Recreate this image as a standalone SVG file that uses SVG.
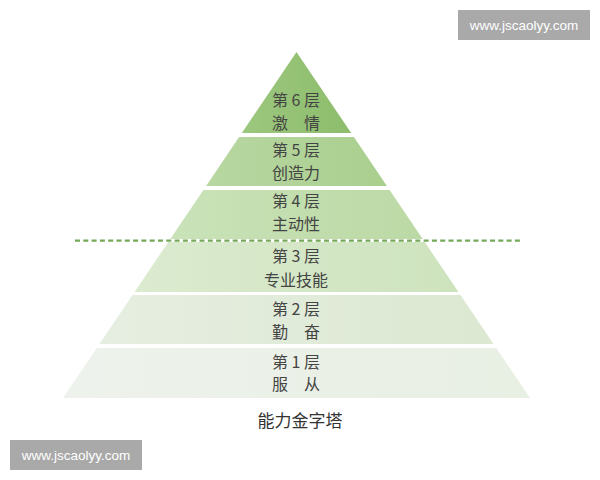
<svg xmlns="http://www.w3.org/2000/svg" width="600" height="480" viewBox="0 0 600 480">
  <defs>
    <linearGradient id="g6" x1="0" y1="0" x2="1" y2="0"><stop offset="0" stop-color="#9cc77e"/><stop offset="1" stop-color="#8dbd6c"/></linearGradient>
    <linearGradient id="g5" x1="0" y1="0" x2="1" y2="0"><stop offset="0" stop-color="#b8d7a2"/><stop offset="1" stop-color="#a9cf8e"/></linearGradient>
    <linearGradient id="g4" x1="0" y1="0" x2="1" y2="0"><stop offset="0" stop-color="#cae2b8"/><stop offset="1" stop-color="#bbd9a5"/></linearGradient>
    <linearGradient id="g3" x1="0" y1="0" x2="1" y2="0"><stop offset="0" stop-color="#dcebd0"/><stop offset="1" stop-color="#cde3bd"/></linearGradient>
    <linearGradient id="g2" x1="0" y1="0" x2="1" y2="0"><stop offset="0" stop-color="#e6eee1"/><stop offset="1" stop-color="#dce8d1"/></linearGradient>
    <linearGradient id="g1" x1="0" y1="0" x2="1" y2="0"><stop offset="0" stop-color="#eef2ec"/><stop offset="1" stop-color="#e8efe3"/></linearGradient>
  </defs>
  <style>
    .lbl { font-family: "Noto Sans CJK SC", "Noto Sans", sans-serif; font-size: 16px; fill: #444444; text-anchor: middle; white-space: pre; }
    .title { font-family: "Noto Sans CJK SC", "Noto Sans", sans-serif; font-size: 17px; fill: #333333; text-anchor: middle; }
    .wm-box { fill: #a9a9a9; }
    .wm-txt { font-family: "Liberation Sans", Arial, sans-serif; font-size: 13.5px; fill: #ffffff; text-anchor: middle; }
  </style>
  <rect width="600" height="480" fill="#ffffff"/>

  <g id="layer6">
    <polygon points="296.5,52 351.2,133 241.8,133" fill="url(#g6)"/>
    <text class="lbl" x="296" y="106" xml:space="preserve">第 6 层</text>
    <text class="lbl" x="296" y="129">激　情</text>
  </g>
  <g id="layer5">
    <polygon points="239.1,137 353.9,137 386.9,186 206.1,186" fill="url(#g5)"/>
    <text class="lbl" x="296" y="156" xml:space="preserve">第 5 层</text>
    <text class="lbl" x="296" y="179">创造力</text>
  </g>
  <g id="layer4">
    <polygon points="203.4,190 389.6,190 422.7,239 170.3,239" fill="url(#g4)"/>
    <text class="lbl" x="296" y="207" xml:space="preserve">第 4 层</text>
    <text class="lbl" x="296" y="230">主动性</text>
  </g>
  <g id="layer3">
    <polygon points="168.3,242 424.7,242 458.5,292 134.5,292" fill="url(#g3)"/>
    <text class="lbl" x="296" y="262" xml:space="preserve">第 3 层</text>
    <text class="lbl" x="296" y="286">专业技能</text>
  </g>
  <g id="layer2">
    <polygon points="132.5,295 460.5,295 493.5,344 99.5,344" fill="url(#g2)"/>
    <text class="lbl" x="296" y="315" xml:space="preserve">第 2 层</text>
    <text class="lbl" x="296" y="338">勤　奋</text>
  </g>
  <g id="layer1">
    <polygon points="96.8,348 496.2,348 530,398 63,398" fill="url(#g1)"/>
    <text class="lbl" x="296" y="368" xml:space="preserve">第 1 层</text>
    <text class="lbl" x="296" y="390">服　从</text>
  </g>

  <g id="connectors">
    <line x1="75" y1="240.7" x2="520" y2="240.7" stroke="#76a85a" stroke-width="2.2" stroke-dasharray="5,3.3"/>
  </g>

  <g id="title">
    <text class="title" x="300" y="427">能力金字塔</text>
  </g>

  <g id="watermark-top">
    <rect class="wm-box" x="458" y="10" width="132" height="30"/>
    <text class="wm-txt" x="524" y="30">www.jscaolyy.com</text>
  </g>
  <g id="watermark-bottom">
    <rect class="wm-box" x="10" y="440" width="132" height="30"/>
    <text class="wm-txt" x="76" y="460">www.jscaolyy.com</text>
  </g>
</svg>
